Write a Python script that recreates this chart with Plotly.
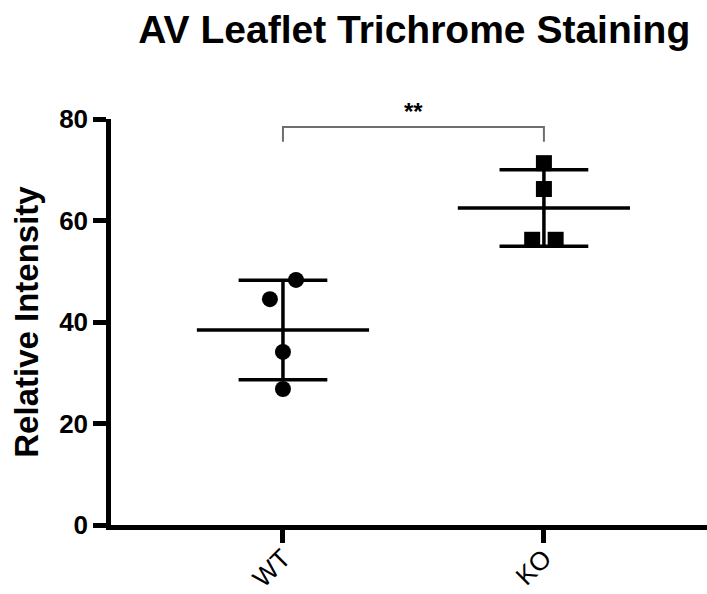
import numpy as np
import plotly.graph_objects as go

# Data
groups = ["WT", "KO"]
wt_values = [48.3, 44.5, 34.1, 26.8]
ko_values = [71.3, 66.2, 56.2, 56.2]
wt_jitter = [0.05, -0.05, 0.0, 0.0]
ko_jitter = [0.0, 0.0, -0.045, 0.045]
y_ticks = [0, 20, 40, 60, 80]
sig_label = "**"
sig_y = 78.4
y_max = 80

FONT = "Liberation Sans, Arial, sans-serif"

fig = go.Figure()

series = [(wt_values, wt_jitter, "circle"), (ko_values, ko_jitter, "square")]
for i, (vals, jit, sym) in enumerate(series):
    m = np.mean(vals)
    sd = np.std(vals, ddof=1)
    # mean line
    fig.add_trace(go.Scatter(x=[i - 0.33, i + 0.33], y=[m, m], mode="lines",
                             line=dict(color="black", width=3.5), showlegend=False, hoverinfo="skip"))
    # sd caps
    for v in (m - sd, m + sd):
        fig.add_trace(go.Scatter(x=[i - 0.17, i + 0.17], y=[v, v], mode="lines",
                                 line=dict(color="black", width=3.5), showlegend=False, hoverinfo="skip"))
    # vertical sd line
    fig.add_trace(go.Scatter(x=[i, i], y=[m - sd, m + sd], mode="lines",
                             line=dict(color="black", width=3.5), showlegend=False, hoverinfo="skip"))
    # points
    fig.add_trace(go.Scatter(x=[i + j for j in jit], y=vals, mode="markers",
                             marker=dict(symbol=sym, size=16, color="black"),
                             showlegend=False, name=groups[i]))

# significance bracket
fig.add_trace(go.Scatter(x=[0, 0, 1, 1], y=[sig_y - 2.9, sig_y, sig_y, sig_y - 2.9], mode="lines",
                         line=dict(color="#6e6e6e", width=2), showlegend=False, hoverinfo="skip",
                         cliponaxis=False))
# label sits above the axis range, so place it in paper units
fig.add_annotation(x=0.5, xref="x", y=(sig_y + 3.0) / y_max, yref="paper", text=sig_label,
                   showarrow=False, yanchor="middle",
                   font=dict(family=FONT, size=24, color="black", weight="bold"))

fig.update_xaxes(range=[-0.659, 1.625], tickvals=[0, 1], ticktext=groups, tickangle=-45,
                 showline=True, linecolor="black", linewidth=4.5, ticks="outside", ticklen=13,
                 tickwidth=4.5, tickcolor="black", showgrid=False, zeroline=False, automargin=False,
                 ticklabelstandoff=-10,
                 tickfont=dict(family=FONT, size=26, color="black"))
fig.update_yaxes(range=[0, y_max], tickvals=y_ticks, showline=True, linecolor="black", linewidth=4.5,
                 ticks="outside", ticklen=13, tickwidth=4.5, tickcolor="black", showgrid=False,
                 zeroline=False, automargin=False,
                 tickfont=dict(family=FONT, size=26, color="black", weight="bold"),
                 title=dict(text="Relative Intensity", standoff=12,
                            font=dict(family=FONT, size=33, color="black", weight="bold")))

fig.update_layout(
    width=707, height=594,
    margin=dict(l=111, r=0, t=119, b=69),
    plot_bgcolor="white", paper_bgcolor="white",
    title=dict(text="AV Leaflet Trichrome Staining", x=0.586, xanchor="center",
               y=0.951, yanchor="middle", font=dict(family=FONT, size=39, color="black", weight="bold")),
)

# page body has a default 8px margin; drop it so the figure sits at the window's corner
fig.write_html("out.html", config={"displayModeBar": False},
               post_script="document.body.style.margin='0';")
